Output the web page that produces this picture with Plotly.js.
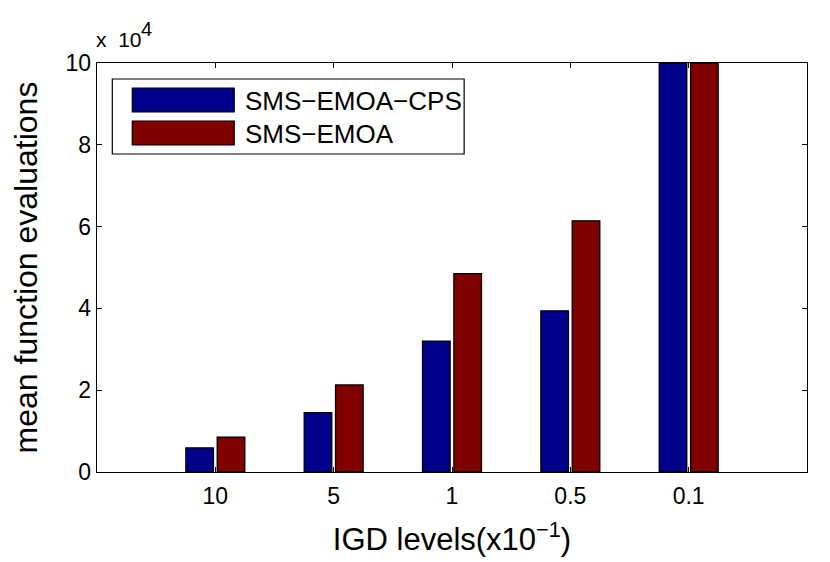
<!DOCTYPE html>
<html><head><meta charset="utf-8">
<script src="https://cdn.plot.ly/plotly-3.0.1.min.js"></script>
<style>body{margin:0;background:#fff}#c{width:830px;height:562px}</style>
</head><body><div id="c"></div>
<script>
const categories = ['10', '5', '1', '0.5', '0.1'];
const seriesNames = ['SMS\u2212EMOA\u2212CPS', 'SMS\u2212EMOA'];
const cpsValues = [5900, 14500, 32000, 39400, 100000];
const emoaValues = [8500, 21300, 48500, 61400, 100000];
const yTicks = [0, 20000, 40000, 60000, 80000, 100000];
const yTickLabels = ['0', '2', '4', '6', '8', '10'];
const colors = ['#00008b', '#800000'];

const xPos = categories.map((c, i) => i + 1);
const font = 'Liberation Sans, Arial, Helvetica, sans-serif';
const traces = [cpsValues, emoaValues].map((v, k) => ({
  type: 'bar', x: xPos, y: v, name: seriesNames[k],
  marker: {color: colors[k], line: {color: '#000', width: 1.3}},
  showlegend: false, cliponaxis: true
}));

const PW = 710.3, PH = 409, PL = 96.7, PB = 472;
const px = x => (x - PL) / PW, py = y => (PB - y) / PH;
const shapes = [
  {type: 'rect', xref: 'paper', yref: 'paper', x0: px(112), x1: px(464),
   y0: py(154), y1: py(79), line: {color: '#000', width: 1.2}, fillcolor: '#fff'}
];
const annotations = [
  {xref: 'paper', yref: 'paper', x: px(94), y: py(53), xanchor: 'left', yanchor: 'bottom',
   text: 'x&nbsp; 10', showarrow: false, font: {family: font, size: 21, color: '#000'}},
  {xref: 'paper', yref: 'paper', x: px(139), y: py(42), xanchor: 'left', yanchor: 'bottom',
   text: '4', showarrow: false, font: {family: font, size: 20, color: '#000'}}
];
seriesNames.forEach((n, k) => {
  const top = 88 + k * 33, bot = top + 24;
  shapes.push({type: 'rect', xref: 'paper', yref: 'paper',
    x0: px(132), x1: px(234), y0: py(bot), y1: py(top),
    line: {color: '#000', width: 1.2}, fillcolor: colors[k]});
  annotations.push({xref: 'paper', yref: 'paper', x: px(243), y: py(top + 13),
    xanchor: 'left', yanchor: 'middle', text: n, showarrow: false,
    font: {family: font, size: 26, color: '#000'}});
});

const layout = {
  width: 830, height: 562,
  margin: {l: PL, r: 830 - PL - PW, t: 63, b: 562 - PB},
  paper_bgcolor: '#fff', plot_bgcolor: '#fff',
  barmode: 'group', bargap: 0.47, bargroupgap: 0.12,
  font: {family: font, color: '#000'},
  xaxis: {range: [0, 6], tickvals: xPos, ticktext: categories,
    ticks: 'inside', ticklen: 5, tickwidth: 1, tickcolor: '#000', ticklabelstandoff: 3,
    showline: true, linecolor: '#000', linewidth: 1.4, mirror: 'ticks',
    showgrid: false, zeroline: false, tickfont: {size: 23, family: font},
    title: {text: 'IGD levels(x10<sup>\u22121</sup>)', font: {size: 31, family: font}, standoff: 20}},
  yaxis: {range: [0, 100000], tickvals: yTicks, ticktext: yTickLabels,
    ticks: 'inside', ticklen: 5, tickwidth: 1, tickcolor: '#000',
    showline: true, linecolor: '#000', linewidth: 1.4, mirror: 'ticks',
    showgrid: false, zeroline: false, tickfont: {size: 23, family: font},
    title: {text: 'mean function evaluations', font: {size: 32, family: font}, standoff: 18}},
  shapes: shapes, annotations: annotations
};
Plotly.newPlot('c', traces, layout, {displayModeBar: false, staticPlot: true});
</script></body></html>
